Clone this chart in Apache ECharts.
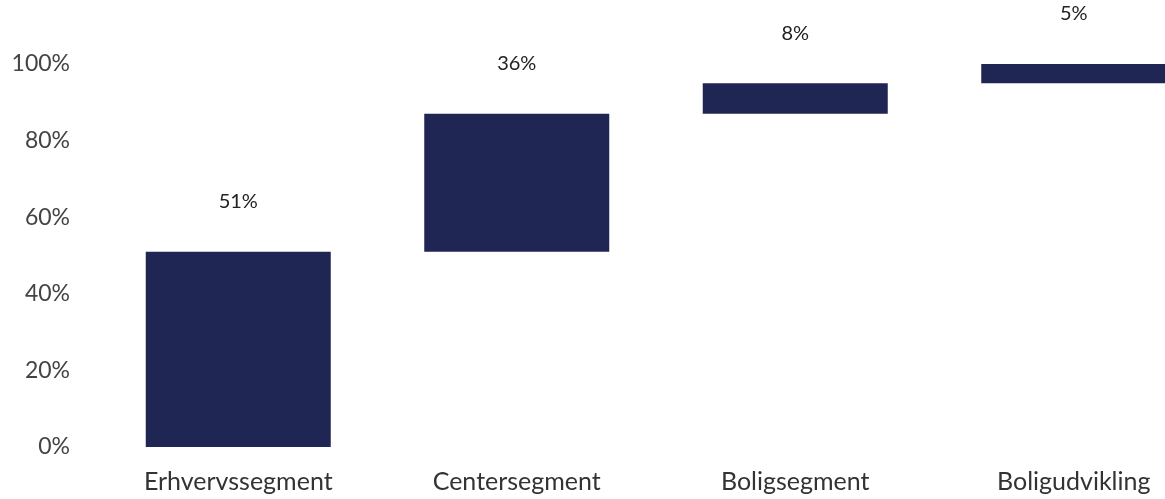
<!DOCTYPE html>
<html>
<head>
<meta charset="utf-8">
<script src="https://cdn.jsdelivr.net/npm/echarts@6/dist/echarts.min.js"></script>
<style>
  html, body { margin: 0; padding: 0; background: #ffffff; overflow: hidden; }
  /* the last column runs past the right edge of the window */
  #chart { width: 1213px; height: 499px; }
</style>
</head>
<body>
<div id="chart"></div>
<script>
// Segment shares (percent) shown as a waterfall toward 100%
const categories = ['Erhvervssegment', 'Centersegment', 'Boligsegment', 'Boligudvikling'];
const shares = [51, 36, 8, 5];
const yTicks = [0, 20, 40, 60, 80, 100];

// Invisible offsets so each bar starts where the previous one ended
const offsets = [];
let running = 0;
for (const v of shares) { offsets.push(running); running += v; }

const chart = echarts.init(document.getElementById('chart'));
const font = 'Lato, "Open Sans", sans-serif';

chart.setOption({
  animation: false,
  grid: { left: 99, top: 64, right: 0, height: 383, containLabel: false },
  xAxis: {
    type: 'category',
    data: categories,
    axisLine: { show: false },
    axisTick: { show: false },
    axisLabel: { color: '#333', fontSize: 25, fontFamily: font, margin: 22 }
  },
  yAxis: {
    type: 'value',
    min: yTicks[0],
    max: yTicks[yTicks.length - 1],
    interval: yTicks[1] - yTicks[0],
    splitLine: { show: false },
    axisLine: { show: false },
    axisTick: { show: false },
    axisLabel: {
      color: '#444', fontSize: 23, fontFamily: font, margin: 29,
      formatter: v => v + '%'
    }
  },
  series: [
    {
      type: 'bar',
      stack: 'w',
      data: offsets,
      barWidth: 185,
      itemStyle: { color: 'transparent' },
      silent: true
    },
    {
      type: 'bar',
      stack: 'w',
      data: shares,
      barWidth: 185,
      itemStyle: { color: '#1f2653' },
      label: {
        show: true,
        position: 'top',
        distance: 40,
        color: '#222',
        fontSize: 20,
        fontFamily: font,
        formatter: p => p.value + '%'
      }
    }
  ]
});
</script>
</body>
</html>
